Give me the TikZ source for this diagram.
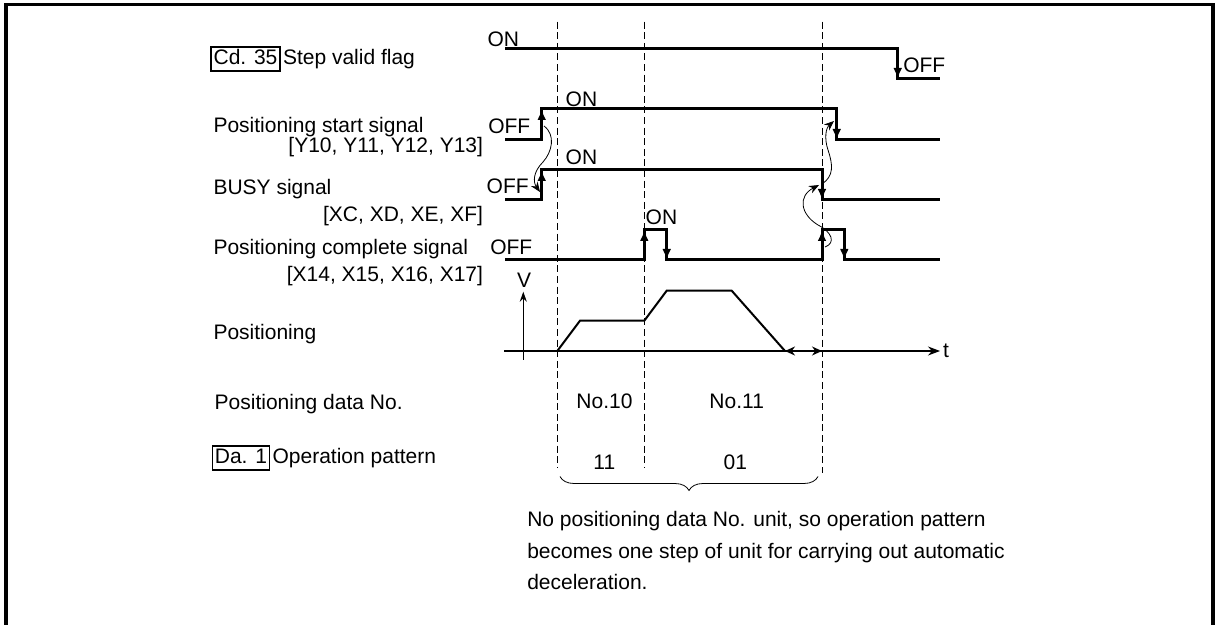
\documentclass[tikz,border=0pt]{standalone}
\usepackage{fontspec}
\setmainfont{Liberation Sans}
\usetikzlibrary{arrows.meta, positioning, decorations.pathreplacing}

\begin{document}
\begin{tikzpicture}[
    x=0.5pt, y=-0.5pt, % 1 unit = 1 pixel of the sheet, y pointing down
    every node/.style={font=\fontsize{10.5}{15.65}\selectfont, inner sep=0pt, outer sep=0pt},
    signal/.style={line width=1.5pt},
    edge/.style={line width=1.5pt, -{Latex[length=5.5pt,width=4.4pt]}},
    cause/.style={line width=0.4pt, -{Stealth[length=5pt,width=4pt]}},
    marker/.style={line width=0.5pt, dash pattern=on 3.5pt off 1.8pt},
    flagbox/.style={draw, line width=0.6pt, inner xsep=1.3pt, inner ysep=1.3pt, text height=7.7pt, text depth=1.7pt},
]
\useasboundingbox (0,0) rectangle (1215,625);

% Frame (open at the bottom)
\draw[line width=1.75pt] (6,625) -- (6,4.3) -- (1213,4.3) -- (1213,625);

% =========================================================
% 1. Signal names
% =========================================================
\node[flagbox, anchor=base west] (cd35) at (211,65) {Cd. 35};
\node[anchor=base west, xshift=1.5pt] (flagname) at (cd35.base east) {Step valid flag};

\node[anchor=base west] (startname) at (213.5,132.7) {Positioning start signal};
\node[anchor=base east] (startdev) at (483,152.3) {[Y10, Y11, Y12, Y13]};

\node[anchor=base west] (busyname) at (213.5,195) {BUSY signal};
\node[anchor=base east] (busydev) at (483,221.7) {[XC, XD, XE, XF]};

\node[anchor=base west] (donename) at (213.5,255) {Positioning complete signal};
\node[anchor=base east] (donedev) at (483,281.7) {[X14, X15, X16, X17]};

\node[anchor=base west] (posname) at (213.5,340) {Positioning};
\node[anchor=base west] (dataname) at (214.7,409.3) {Positioning data No.};

\node[flagbox, anchor=base west] (da1) at (212.3,464) {Da. 1};
\node[anchor=base west, xshift=1.5pt] (patname) at (da1.base east) {Operation pattern};

% =========================================================
% 2. Timing markers
% =========================================================
\coordinate (t1) at (557.3,21.7);
\coordinate (t2) at (644.3,21.7);
\coordinate (t3) at (822,21.7);
\draw[marker] (t1) -- ++(0,446.3);
\draw[marker] (t2) -- ++(0,446.3);
\draw[marker] (t3) -- ++(0,451.3);

% =========================================================
% 3. Waveforms
% =========================================================
% Step valid flag
\node[anchor=base west] (flagon) at (487.5,46.7) {ON};
\draw[signal] (505,49) -| (897.7,79) -- (940,79);
\draw[edge] (897.7,49) -- (897.7,79);
\node[anchor=base west] (flagoff) at (903.3,72.7) {OFF};

% Positioning start signal
\node[anchor=base west] (startoff) at (488.3,133.3) {OFF};
\node[anchor=base west] (starton) at (565.7,106.7) {ON};
\draw[signal] (505,140) -- (541.7,140) |- (836.7,109) |- (940,140);
\draw[edge] (541.7,140) -- (541.7,109);
\draw[edge] (836.7,109) -- (836.7,140);

% BUSY signal
\node[anchor=base west] (busyoff) at (486.7,194) {OFF};
\node[anchor=base west] (busyon) at (565.7,164.5) {ON};
\draw[signal] (505,200) -- (541.7,200) |- (822,170) |- (940,200);
\draw[edge] (541.7,200) -- (541.7,170);
\draw[edge] (822,170) -- (822,200);

% Positioning complete signal
\node[anchor=base west] (doneoff) at (490.3,255) {OFF};
\node[anchor=base west] (doneon) at (645.7,225) {ON};
\draw[signal] (505,260) -- (644.3,260) |- (666.7,230) |- (822,260) |- (844.3,230) |- (940,260);
\draw[edge] (644.3,260) -- (644.3,230);
\draw[edge] (666.7,230) -- (666.7,260);
\draw[edge] (822,260) -- (822,230);
\draw[edge] (844.3,230) -- (844.3,260);

% Cause -> effect
\draw[cause] (544,126) .. controls (556,135) and (552,152) .. (543,162) .. controls (533,172) and (533,182) .. (540,192);
\draw[cause] (822,184) .. controls (834,176) and (833,165) .. (828,150) .. controls (824,138) and (826,128) .. (834,121);
\draw[cause] (825,247) .. controls (836,243) and (832,232) .. (818,225) .. controls (800,214) and (798,196) .. (819,185);

% =========================================================
% 4. Speed profile
% =========================================================
\draw[line width=0.6pt, -{Stealth[length=6pt,width=4.5pt]}] (504,351) -- (940,351) node[anchor=base west, xshift=1.5pt, yshift=-3.5pt] (tlabel) {t};
\draw[line width=0.6pt, -{Stealth[length=5pt,width=3.5pt]}] (523.3,360) -- (523.3,291.7);
\node[anchor=base] (vlabel) at (524,288) {V};
\draw[line width=1pt] (557.3,351) -- (580,320.7) -- (644.3,320.7) -- (666.7,290.7) -- (731.7,290.7) -- (785,351);
\draw[line width=0.6pt, {Stealth[length=5pt,width=4.5pt]}-{Stealth[length=5pt,width=4.5pt]}] (785,351) -- (822,351);

% =========================================================
% 5. Data No. and pattern
% =========================================================
\node[anchor=base] (no10) at (604.5,408.3) {No.10};
\node[anchor=base] (no11) at (736.7,408.3) {No.11};
\node[anchor=base] (pat11) at (604.3,469) {11};
\node[anchor=base] (pat01) at (735.3,469) {01};

\draw[line width=0.4pt, decorate, decoration={brace, mirror, amplitude=7pt}] (560,476.5) -- (818,476.5);
\node[anchor=base west, align=left] (note) at (527.3,589.3) {No positioning data No. unit, so operation pattern\\becomes one step of unit for carrying out automatic\\deceleration.};

\end{tikzpicture}
\end{document}
